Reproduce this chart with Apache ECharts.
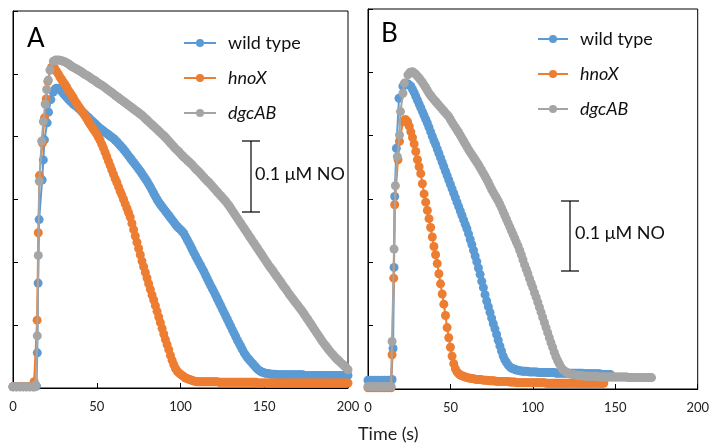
<!DOCTYPE html>
<html><head><meta charset="utf-8">
<script src="https://cdn.jsdelivr.net/npm/echarts/dist/echarts.min.js"></script>
<style>html,body{margin:0;padding:0;background:#fff}#c{width:712px;height:444px}</style>
</head><body><div id="c"></div>
<script>
// ---- data (time in s, signal in y-axis tick units) ----
const seriesNames = ['wild type', 'hnoX', 'dgcAB'];
const xTicks = [0, 50, 100, 150, 200];

// Panel A: baseline + rise as [t, y] pairs, then 1-s samples of the decay
const aWildRise = [[0,0.02],[2,0.02],[4,0.02],[6,0.02],[8,0.02],[10,0.02],[12,0.02],[13,0.02],[14,0.03],
[14.5,0.56],[15,1.67],[15.6,2.68],[17.4,3.31],[18.1,3.63],[18.8,3.95],[20.4,4.22],[21.2,4.39],[22.6,4.59],[24,4.71],[25.2,4.76],[26,4.77],[27,4.77]];
const aWildFallStart = 28;
const aWildFall = [
4.75,4.72,4.69,4.66,4.63,4.60,4.57,4.545,4.52,4.50,
4.48,4.455,4.43,4.405,4.38,4.355,4.33,4.305,4.28,4.255,
4.23,4.205,4.18,4.155,4.13,4.11,4.09,4.07,4.05,4.03,
4.01,3.99,3.97,3.945,3.92,3.89,3.86,3.83,3.80,3.765,
3.73,3.695,3.66,3.625,3.59,3.555,3.52,3.485,3.45,3.41,
3.37,3.33,3.29,3.245,3.20,3.15,3.10,3.05,3.00,2.96,
2.92,2.885,2.85,2.815,2.78,2.745,2.71,2.675,2.64,2.605,
2.57,2.545,2.52,2.49,2.46,2.41,2.36,2.31,2.26,2.205,
2.15,2.10,2.05,2.00,1.95,1.90,1.85,1.795,1.74,1.685,
1.63,1.58,1.53,1.475,1.42,1.365,1.31,1.255,1.20,1.145,
1.09,1.035,0.98,0.925,0.87,0.815,0.76,0.71,0.66,0.61,
0.56,0.52,0.48,0.45,0.42,0.39,0.36,0.33,0.30,0.28,
0.26,0.25,0.24,0.235,0.23,0.225,0.22,0.22,0.22,0.215,
0.21,0.21,0.21,0.21,0.21,0.21,0.21,0.21,0.21,0.21,
0.21,0.21,0.21,0.21,0.21,0.21,0.20,0.20,0.20,0.20,
0.20,0.20,0.20,0.20,0.20,0.20,0.20,0.20,0.20,0.20,
0.20,0.20,0.20,0.20,0.20,0.20,0.20,0.20,0.20,0.20,
0.20,0.20,0.20];

const aHnoRise = [[0,0.02],[2,0.02],[4,0.02],[6,0.02],[8,0.02],[10,0.02],[12,0.02],[12.6,0.1],[14.4,1.08],[15.1,2.47],[15.8,3.38],[17.6,3.9],[18.8,4.3],[19.8,4.6],[20.8,4.88],[22.2,5.06],[23,5.1],[24,5.12]];
const aHnoFallStart = 25;
const aHnoFall = [
5.08,5.04,5.00,4.95,4.91,4.87,4.83,4.79,4.74,4.70,
4.66,4.62,4.57,4.53,4.49,4.45,4.41,4.37,4.33,4.29,
4.24,4.20,4.16,4.12,4.08,4.04,3.99,3.94,3.88,3.82,
3.75,3.68,3.61,3.54,3.47,3.40,3.33,3.27,3.20,3.13,
3.07,3.00,2.93,2.86,2.79,2.72,2.62,2.52,2.42,2.32,
2.22,2.12,2.02,1.93,1.84,1.75,1.66,1.57,1.48,1.40,
1.31,1.22,1.13,1.04,0.95,0.86,0.77,0.69,0.61,0.52,
0.44,0.37,0.31,0.27,0.24,0.22,0.20,0.18,0.16,0.15,
0.14,0.13,0.12,0.11,0.105,0.10,
0.10,0.10,0.10,0.10,0.10,0.10,0.10,0.10,0.10,0.10,
0.10,0.10,0.09,0.09,0.09,0.09,0.09,0.09,0.09,0.09,
0.09,0.09,0.09,0.09,0.09,0.09,0.09,0.09,0.09,0.09,
0.09,0.09,0.09,0.09,0.09,0.08,0.08,0.08,0.08,0.08,
0.08,0.08,0.08,0.08,0.08,0.08,0.08,0.08,0.08,0.08,
0.08,0.08,0.08,0.08,0.08,0.08,0.08,0.08,0.08,0.08,
0.08,0.08,0.08,0.08,0.08,0.08,0.08,0.08,0.08,0.08,
0.08,0.08,0.08,0.08,0.08,0.08,0.08,0.08,0.08,0.08,
0.08,0.08,0.08,0.08,0.08,0.08,0.08,0.08,0.08,0.08];

const aDgcRise = [[0,0.02],[2,0.02],[4,0.02],[6,0.02],[8,0.02],[10,0.02],[12,0.02],[13,0.02],[13.6,0.05],
[14.5,0.83],[15.1,2.11],[15.7,3.29],[17.1,3.93],[18.1,4.24],[19.2,4.52],[20.1,4.75],[21.1,4.9],[22.1,5.06],[24.1,5.2],[25.5,5.22]];
const aDgcFallStart = 27;
const aDgcFall = [
5.22,5.215,5.21,5.20,5.19,5.175,5.16,5.14,5.12,5.105,
5.09,5.075,5.06,5.045,5.03,5.01,4.99,4.975,4.96,4.94,
4.92,4.905,4.89,4.87,4.85,4.835,4.82,4.80,4.78,4.76,
4.74,4.72,4.70,4.68,4.66,4.64,4.62,4.60,4.58,4.56,
4.54,4.52,4.50,4.48,4.46,4.44,4.42,4.40,4.38,4.36,
4.34,4.315,4.29,4.265,4.24,4.215,4.19,4.165,4.14,4.115,
4.09,4.065,4.04,4.015,3.99,3.96,3.93,3.90,3.87,3.84,
3.81,3.785,3.76,3.73,3.70,3.675,3.65,3.625,3.60,3.575,
3.55,3.52,3.49,3.465,3.44,3.41,3.38,3.35,3.32,3.295,
3.27,3.24,3.21,3.18,3.15,3.12,3.09,3.06,3.03,3.00,
2.97,2.935,2.90,2.86,2.82,2.78,2.74,2.70,2.66,2.62,
2.58,2.54,2.50,2.46,2.42,2.38,2.34,2.30,2.26,2.22,
2.18,2.14,2.10,2.06,2.02,1.98,1.94,1.905,1.87,1.83,
1.79,1.755,1.72,1.68,1.64,1.605,1.57,1.53,1.49,1.455,
1.42,1.385,1.35,1.315,1.28,1.245,1.21,1.17,1.13,1.09,
1.05,1.01,0.97,0.93,0.89,0.85,0.81,0.77,0.73,0.695,
0.66,0.625,0.59,0.56,0.53,0.50,0.47,0.445,0.42,0.395,
0.37,0.345,0.32,0.29];

// Panel B
const bWildRise = [[0,0.14],[2,0.14],[4,0.14],[6,0.14],[8,0.14],[10,0.14],[12,0.14],[14,0.14],[14.6,0.15],
[15.2,0.64],[15.8,1.92],[16.2,3.04],[17.2,3.8],[18.8,4.59],[21.2,4.78],[22.6,4.82]];
const bWildFallStart = 24;
const bWildFall = [
4.82,4.80,4.78,4.73,4.68,4.62,4.56,4.50,4.44,4.38,
4.32,4.26,4.20,4.13,4.06,3.99,3.92,3.86,3.79,3.72,
3.65,3.58,3.51,3.44,3.37,3.30,3.23,3.16,3.09,3.02,
2.95,2.88,2.81,2.74,2.67,2.60,2.53,2.45,2.36,2.28,
2.19,2.10,2.01,1.91,1.81,1.70,1.60,1.49,1.39,1.30,
1.21,1.12,1.03,0.95,0.86,0.77,0.68,0.60,0.52,0.46,
0.42,0.38,0.35,0.33,0.32,0.31,0.30,0.295,0.29,0.285,
0.28,0.28,0.28,0.275,0.27,0.27,0.27,0.27,0.27,0.265,
0.26,0.26,0.26,0.26,0.26,0.26,0.26,0.26,0.26,0.26,
0.25,0.25,0.25,0.25,0.25,0.25,0.25,0.25,0.25,0.25,
0.25,0.25,0.25,0.25,0.25,0.25,0.25,0.245,0.24,0.24,
0.24,0.24,0.24,0.24,0.24,0.24,0.24,0.235,0.23,0.23,
0.23,0.23,0.23,0.23];

const bHnoRise = [[0,0.02],[2,0.02],[4,0.02],[6,0.02],[8,0.02],[10,0.02],[12,0.02],[14,0.02],
[14.6,0.54],[15.6,1.75],[16.2,2.91],[18.2,3.62],[19.1,3.91],[21.2,4.22],[22.2,4.25]];
const bHnoFallStart = 23;
const bHnoFall = [
4.25,4.22,4.15,4.06,3.97,3.87,3.75,3.62,3.51,3.40,
3.24,3.08,2.95,2.82,2.69,2.55,2.40,2.25,2.12,1.98,
1.82,1.66,1.50,1.34,1.16,0.97,0.81,0.66,0.52,0.40,
0.32,0.27,0.24,0.22,0.21,0.20,0.19,0.18,0.175,0.17,
0.165,0.16,0.155,0.15,0.15,0.15,0.145,0.14,0.14,0.14,
0.135,0.13,0.13,0.13,0.125,0.12,0.12,0.12,0.12,0.12,
0.12,0.12,0.12,0.11,0.11,0.11,0.11,0.10,0.10,0.10,
0.10,0.10,0.10,0.10,0.10,0.10,0.10,0.10,0.10,0.10,
0.10,0.10,0.10,0.10,0.10,0.09,0.09,0.09,0.09,0.09,
0.09,0.09,0.09,0.09,0.09,0.09,0.09,0.09,0.09,0.09,
0.09,0.09,0.09,0.09,0.09,0.09,0.09,0.09,0.09,0.09,
0.09,0.09,0.09,0.09,0.09,0.09,0.09,0.09,0.09,0.09,
0.09];

const bDgcRise = [[0,0.04],[2,0.04],[4,0.04],[6,0.04],[8,0.04],[10,0.04],[12,0.04],[14,0.04],
[14.6,0.75],[15.8,2.21],[16.6,3.21],[17.8,3.67],[19.1,4.01],[19.7,4.38],[21.2,4.67],[22.1,4.83],[24.2,4.96],[25.5,5.0]];
const bDgcFallStart = 27;
const bDgcFall = [
5.01,4.99,4.97,4.94,4.91,4.875,4.84,4.80,4.76,4.715,
4.67,4.635,4.60,4.57,4.54,4.51,4.48,4.45,4.42,4.39,
4.36,4.33,4.30,4.255,4.21,4.17,4.13,4.09,4.05,4.005,
3.96,3.915,3.87,3.825,3.78,3.74,3.70,3.66,3.62,3.58,
3.54,3.495,3.45,3.405,3.36,3.31,3.26,3.205,3.15,3.105,
3.06,3.015,2.97,2.915,2.86,2.80,2.74,2.68,2.62,2.56,
2.50,2.44,2.38,2.32,2.26,2.19,2.12,2.04,1.96,1.89,
1.82,1.74,1.67,1.60,1.52,1.45,1.37,1.29,1.21,1.13,
1.05,0.97,0.89,0.81,0.73,0.66,0.58,0.51,0.45,0.40,
0.35,0.31,0.29,0.27,0.255,0.24,0.235,0.23,0.225,0.22,
0.215,0.21,0.21,0.21,0.205,0.20,0.20,0.20,0.20,0.20,
0.20,0.20,0.20,0.19,0.19,0.19,0.19,0.19,0.19,0.19,
0.19,0.19,0.19,0.19,0.19,0.19,0.19,0.19,0.19,0.19,
0.19,0.18,0.18,0.18,0.18,0.18,0.18,0.18,0.18,0.18,
0.18,0.18,0.18,0.18,0.18,0.18];

const panelLetters = ['A', 'B'];
const scaleBarLabel = '0.1 μM NO';
const axisTitle = 'Time (s)';

function joinSeries(rise, start, fall) {
  return rise.concat(fall.map((y, i) => [start + i, y]));
}
const panelData = [
  [joinSeries(aWildRise, aWildFallStart, aWildFall), joinSeries(aHnoRise, aHnoFallStart, aHnoFall), joinSeries(aDgcRise, aDgcFallStart, aDgcFall)],
  [joinSeries(bWildRise, bWildFallStart, bWildFall), joinSeries(bHnoRise, bHnoFallStart, bHnoFall), joinSeries(bDgcRise, bDgcFallStart, bDgcFall)]
];

// ---- styling / layout ----
const colors = ['#5B9BD5', '#ED7D31', '#A5A5A5'];
const FONT = 'Lato, "Open Sans", sans-serif';
const grids = [
  {left: 13, top: 11, width: 335, height: 377},
  {left: 368, top: 9, width: 335, height: 380}
];

const chart = echarts.init(document.getElementById('c'), null, {renderer: 'canvas'});

const option = {
  animation: false,
  backgroundColor: '#fff',
  grid: grids.map(g => Object.assign({show: true, borderColor: '#000', borderWidth: 1, backgroundColor: 'transparent'}, g)),
  xAxis: grids.map((g, i) => ({
    type: 'value', gridIndex: i, min: xTicks[0], max: xTicks[xTicks.length - 1], interval: xTicks[1] - xTicks[0],
    axisLine: {show: true, lineStyle: {color: '#000', width: 1}},
    axisTick: {show: true, inside: true, length: 5, lineStyle: {color: '#000'}},
    axisLabel: {show: true, fontSize: 13, color: '#222', margin: 12, fontFamily: FONT},
    splitLine: {show: false}
  })),
  yAxis: grids.map((g, i) => ({
    type: 'value', gridIndex: i, min: 0, max: 6, interval: 1,
    axisLine: {show: true, lineStyle: {color: '#000', width: 1}},
    axisTick: {show: true, inside: true, length: 5, lineStyle: {color: '#000'}},
    axisLabel: {show: false},
    splitLine: {show: false}
  })),
  legend: [
    {left: 183, top: 33, itemWidth: 32},
    {left: 537, top: 29, itemWidth: 30}
  ].map(l => Object.assign({
    data: seriesNames, orient: 'vertical', itemHeight: 10, itemGap: 15, padding: 0, selectedMode: false,
    formatter: n => n === 'wild type' ? n : '{i|' + n + '}',
    textStyle: {fontSize: 18, fontFamily: FONT, color: '#111', lineHeight: 20, padding: [0, 0, 0, 7],
      rich: {i: {fontStyle: 'italic', fontSize: 18, fontFamily: FONT, color: '#111', lineHeight: 20}}}
  }, l)),
  series: [],
  graphic: []
};

panelData.forEach((sets, p) => {
  sets.forEach((d, k) => {
    option.series.push({
      name: seriesNames[k], type: 'line', xAxisIndex: p, yAxisIndex: p, data: d,
      symbol: 'circle', symbolSize: 9, showSymbol: true, showAllSymbol: true,
      lineStyle: {color: colors[k], width: 2},
      itemStyle: {color: colors[k]},
      emphasis: {disabled: true}, clip: true, z: 2 + k
    });
  });
});

// panel letters, scale bars, axis title
const letterPos = [[27, 40], [381, 35]];
const bars = [{x: 251, y1: 141, y2: 212, tx: 255, ty: 176}, {x: 570, y1: 201, y2: 271, tx: 575, ty: 235}];
letterPos.forEach((pos, i) => {
  option.graphic.push({type: 'text', left: pos[0], top: pos[1] - 14, style: {text: panelLetters[i], font: '26px ' + FONT, fill: '#000'}});
});
bars.forEach(b => {
  option.graphic.push({type: 'line', shape: {x1: b.x, y1: b.y1, x2: b.x, y2: b.y2}, style: {stroke: '#000', lineWidth: 1.2}});
  option.graphic.push({type: 'line', shape: {x1: b.x - 9, y1: b.y1, x2: b.x + 9, y2: b.y1}, style: {stroke: '#000', lineWidth: 1.2}});
  option.graphic.push({type: 'line', shape: {x1: b.x - 9, y1: b.y2, x2: b.x + 9, y2: b.y2}, style: {stroke: '#000', lineWidth: 1.2}});
  option.graphic.push({type: 'text', left: b.tx, top: b.ty - 11, style: {text: scaleBarLabel, font: '18px ' + FONT, fill: '#111'}});
});
option.graphic.push({type: 'text', left: 358, top: 425, style: {text: axisTitle, font: '18px ' + FONT, fill: '#222', textAlign: 'center'}});

chart.setOption(option);
</script></body></html>
